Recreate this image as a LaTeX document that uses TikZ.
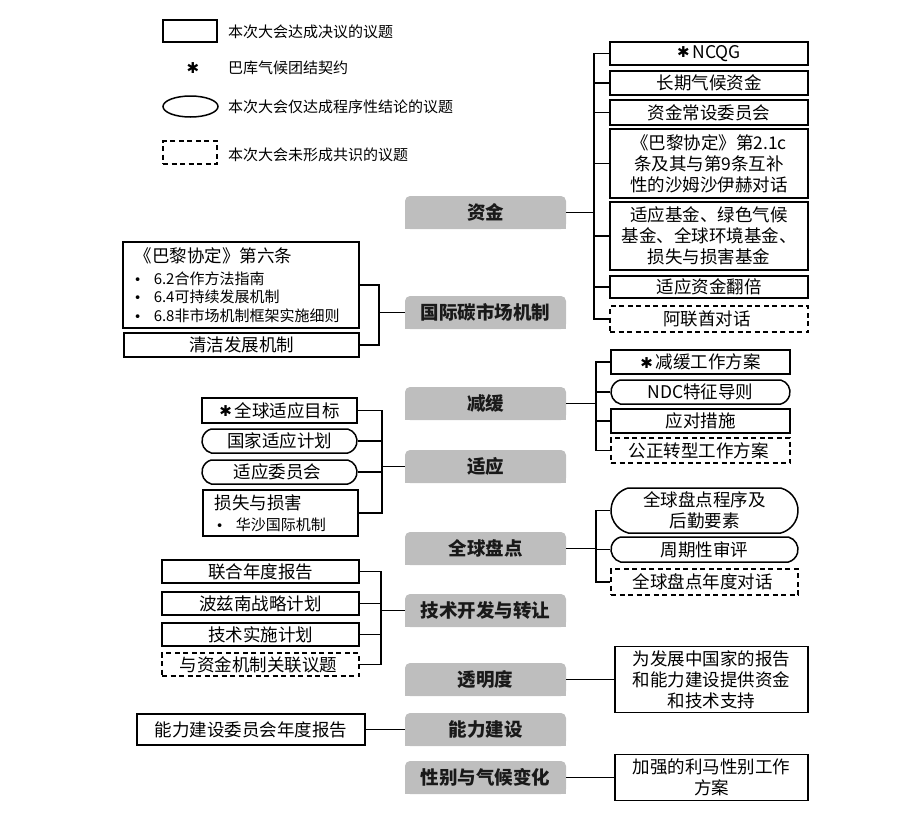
\documentclass[tikz,border=0pt]{standalone}
\usepackage{fontspec}
\setmainfont{Noto Sans CJK SC}
\newfontfamily\symFont{DejaVu Sans}
\usetikzlibrary{shapes}
\definecolor{topicGray}{RGB}{190,190,190}

\def\pactStar{\raisebox{0.5pt}{\symFont\fontsize{15}{15}\selectfont ✱}\,}
\def\itemDot{\hspace*{1pt}\makebox[20pt][l]{\symFont\fontsize{13}{13}\selectfont •}}

\tikzset{
  decidedBox/.style={draw, line width=1.5pt, inner sep=0pt, align=center, font=\fontsize{17.5}{21}\selectfont},
  procBox/.style={decidedBox, rounded rectangle, rounded rectangle arc length=150},
  openBox/.style={decidedBox, dash pattern=on 5pt off 3.5pt},
  topicText/.style={minimum width=161pt, minimum height=33pt, inner sep=0pt, font=\fontsize{18.5}{18.5}\selectfont\bfseries, text=black!90},
  legendText/.style={anchor=west, inner sep=0pt, font=\fontsize{15}{15}\selectfont},
  link/.style={line width=1.5pt}
}

\begin{document}
\begin{tikzpicture}[x=1pt,y=-1pt]
  \useasboundingbox (0,0) rectangle (923,815);

  % draw the legend
  \node[decidedBox, minimum width=54pt, minimum height=22pt] (lgA) at (190,31) {};
  \node[legendText] (lgAt) at (228,32) {本次大会达成决议的议题};
  \node[inner sep=0pt] (lgB) at (193,68) {{\symFont\fontsize{15}{15}\selectfont ✱}};
  \node[legendText] (lgBt) at (228,68) {巴库气候团结契约};
  \node[draw, line width=1.5pt, ellipse, inner sep=0pt, minimum width=55pt, minimum height=21pt] (lgC) at (190.5,106.5) {};
  \node[legendText] (lgCt) at (228,107) {本次大会仅达成程序性结论的议题};
  \node[openBox, minimum width=54pt, minimum height=23pt] (lgD) at (190,152.5) {};
  \node[legendText] (lgDt) at (228,155) {本次大会未形成共识的议题};

  % draw the topics
  \def\topics{zj/196/资金, gj/296/国际碳市场机制, jh/387/减缓, sy/450/适应, gs/532/全球盘点,
    js/594/技术开发与转让, tm/663/透明度, nl/713/能力建设, xb/761/性别与气候变化}
  \foreach \id/\ty/\lbl in \topics
  {
    \fill[topicGray, rounded corners=5pt] (405,\ty) rectangle (566,\ty+33);
    \fill[topicGray] (405,\ty+12) rectangle (566,\ty+33);
    \node[topicText] (\id) at (485.5,\ty+16.5) {\lbl};
  }

  % draw the finance branch
  \def\finance{
    f1/53.5/23/decidedBox/{\pactStar NCQG},
    f2/83/24/decidedBox/{长期气候资金},
    f3/112.5/25/decidedBox/{资金常设委员会},
    f4/163.5/69/decidedBox/{《巴黎协定》第2.1c\\条及其与第9条互补\\性的沙姆沙伊赫对话},
    f5/236/68/decidedBox/{适应基金、绿色气候\\基金、全球环境基金、\\损失与损害基金},
    f6/287/22/decidedBox/{适应资金翻倍},
    f7/319/26/openBox/{阿联酋对话}
  }
  \coordinate (zjT) at (594,0 |- zj.east);
  \foreach \id/\y/\h/\kind/\lbl in \finance
  {
    \node[\kind, minimum width=198pt, minimum height=\h pt] (\id) at (709,\y) {\lbl};
    \draw[link] (zj.east) -- (zjT) |- (\id.west);
  }

  % draw the mitigation branch
  \def\mitigation{
    m1/362/24/decidedBox/{\pactStar 减缓工作方案},
    m2/392/24/procBox/{NDC特征导则},
    m3/421/24/decidedBox/{应对措施},
    m4/450.5/25/openBox/{公正转型工作方案}
  }
  \coordinate (jhT) at (596,0 |- jh.east);
  \foreach \id/\y/\h/\kind/\lbl in \mitigation
  {
    \node[\kind, minimum width=179pt, minimum height=\h pt] (\id) at (700.5,\y) {\lbl};
    \draw[link] (jh.east) -- (jhT) |- (\id.west);
  }

  % draw the stocktake branch
  \def\stocktake{
    g1/510.5/45/procBox/{全球盘点程序及\\后勤要素},
    g2/549.5/25/procBox/{周期性审评},
    g3/582/26/openBox/{全球盘点年度对话}
  }
  \coordinate (gsT) at (596,0 |- gs.east);
  \foreach \id/\y/\h/\kind/\lbl in \stocktake
  {
    \node[\kind, minimum width=187pt, minimum height=\h pt] (\id) at (704.5,\y) {\lbl};
    \draw[link] (gs.east) -- (gsT) |- (\id.west);
  }

  % single boxes on the right
  \node[decidedBox, minimum width=193pt, minimum height=66pt] (t1) at (711.5,679.5) {为发展中国家的报告\\和能力建设提供资金\\和技术支持};
  \draw[link] (tm.east) -- (t1.west);
  \node[decidedBox, minimum width=193pt, minimum height=46pt] (x1) at (711.5,777.5) {加强的利马性别工作\\方案};
  \draw[link] (xb.east) -- (x1.west);

  % draw the carbon market branch
  \node[decidedBox, anchor=west, align=left, text width=216pt, inner xsep=10pt, minimum height=86pt] (a1) at (122,285)
  {\hspace*{2pt}《巴黎协定》第六条\\[1pt]
    {\fontsize{15}{18}\selectfont\itemDot 6.2合作方法指南}\\[-2.5pt]
    {\fontsize{15}{18}\selectfont\itemDot 6.4可持续发展机制}\\[-2.5pt]
    {\fontsize{15}{18}\selectfont\itemDot 6.8非市场机制框架实施细则}};
  \node[decidedBox, minimum width=235pt, minimum height=24pt] (a2) at (241.5,345) {清洁发展机制};
  \coordinate (gjT) at (379,0 |- gj.west);
  \foreach \id in {a1,a2}
    \draw[link] (gj.west) -- (gjT) |- (\id.east);

  % draw the adaptation branch
  \def\adaptation{
    d1/410.5/25/decidedBox/{\pactStar 全球适应目标},
    d2/441/24/procBox/{国家适应计划},
    d3/472/24/procBox/{适应委员会}
  }
  \coordinate (syT) at (382,0 |- sy.west);
  \foreach \id/\y/\h/\kind/\lbl in \adaptation
  {
    \node[\kind, minimum width=155pt, minimum height=\h pt] (\id) at (279.5,\y) {\lbl};
    \draw[link] (sy.west) -- (syT) |- (\id.east);
  }
  \node[decidedBox, anchor=west, align=left, text width=131pt, inner xsep=12pt, minimum height=46pt] (d4) at (202,513)
  {损失与损害\\ {\fontsize{15}{18}\selectfont\itemDot 华沙国际机制}};
  \draw[link] (sy.west) -- (syT) |- (d4.east);

  % draw the technology branch
  \def\technology{
    c1/571.5/23/decidedBox/{联合年度报告},
    c2/603.5/23/decidedBox/{波兹南战略计划},
    c3/634.5/23/decidedBox/{技术实施计划},
    c4/664.5/23/openBox/{与资金机制关联议题}
  }
  \coordinate (jsT) at (381,0 |- js.west);
  \foreach \id/\y/\h/\kind/\lbl in \technology
  {
    \node[\kind, minimum width=197pt, minimum height=\h pt] (\id) at (260.5,\y) {\lbl};
    \draw[link] (js.west) -- (jsT) |- (\id.east);
  }

  % capacity building
  \node[decidedBox, minimum width=228pt, minimum height=31pt] (b1) at (251,729.5) {能力建设委员会年度报告};
  \draw[link] (nl.west) -- (b1.east);

\end{tikzpicture}
\end{document}
